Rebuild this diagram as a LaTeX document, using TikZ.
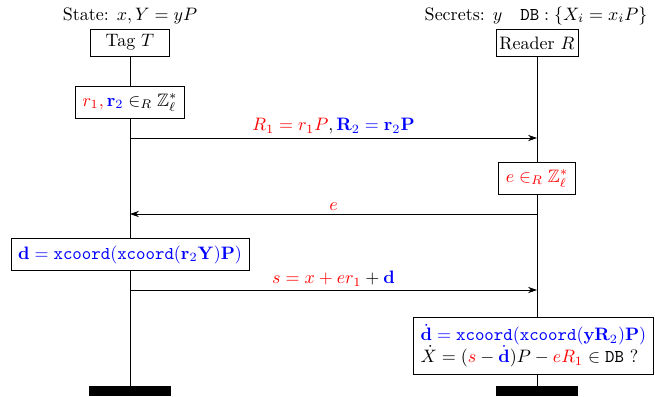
\documentclass[tikz,border=0pt]{standalone}
\usepackage{amssymb}
\usetikzlibrary{arrows.meta,positioning}
\colorlet{rnd}{red}
\colorlet{pnt}{blue}

\begin{document}
\begin{tikzpicture}[x=0.5556pt,y=-0.5556pt,
    actor/.style={draw,minimum width=44pt,minimum height=15pt,inner sep=2pt},
    calcbox/.style={draw,fill=white,inner sep=4pt},
    msg/.style={-{Stealth[length=5pt,width=3.5pt]}},
    lifebar/.style={fill=black,minimum width=45.5pt,minimum height=5.5pt,inner sep=0pt}]
    \path[use as bounding box] (0,0) rectangle (655,396);
    % actors and their headers
    \node[actor] (tag) at (130,42.5) {Tag $T$};
    \node[actor] (rdr) at (537,43) {Reader $R$};
    \node[above=-1pt of tag] (tagState) {State: $x,Y=yP$};
    \node[above=-1pt of rdr,xshift=-0.5pt] (rdrSecret) {Secrets: $y\quad\mathtt{DB}:\{X_i=x_iP\}$};
    % lifelines
    \node[lifebar] (tagEnd) at (130,391) {};
    \node[lifebar] (rdrEnd) at (537,391) {};
    \draw (tag) -- (tagEnd);
    \draw (rdr) -- (rdrEnd);
    % computations
    \node[calcbox] (tagRnd) at (tag |- 0,102.5) {$\color{rnd}r_1,\color{pnt}\mathbf{r}_2\color{black}\in_R\mathbb{Z}_\ell^*$};
    \node[calcbox] (rdrRnd) at (rdr |- 0,178.5) {\color{rnd}$e\in_R\mathbb{Z}_\ell^*$};
    \node[calcbox] (tagD) at (tag |- 0,254.5) {\color{pnt}$\mathbf{d}=\mathtt{xcoord}(\mathtt{xcoord}(\mathbf{r}_2\mathbf{Y})\mathbf{P})$};
    \node[calcbox,align=left,xshift=-2pt] (rdrChk) at (rdr |- 0,345.5) {\color{pnt}$\dot{\mathbf{d}}=\mathtt{xcoord}(\mathtt{xcoord}(\mathbf{y}\mathbf{R}_2)\mathbf{P})$\\
      $\dot{X}=({\color{rnd}s}-{\color{pnt}\dot{\mathbf{d}}})P-{\color{rnd}eR_1}\in\mathtt{DB}$ ?};
    % messages
    \coordinate (m1t) at (tag |- 0,138);
    \coordinate (m1r) at (rdr |- 0,138);
    \coordinate (m2t) at (tag |- 0,214);
    \coordinate (m2r) at (rdr |- 0,214);
    \coordinate (m3t) at (tag |- 0,290);
    \coordinate (m3r) at (rdr |- 0,290);
    \draw[msg] (m1t) -- node[above,inner sep=2pt] {${\color{rnd}R_1=r_1P},{\color{pnt}\mathbf{R}_2=\mathbf{r}_2\mathbf{P}}$} (m1r);
    \draw[msg] (m2r) -- node[above,inner sep=2pt] {\color{rnd}$e$} (m2t);
    \draw[msg] (m3t) -- node[above,inner sep=2pt] {${\color{rnd}s=x+er_1}+{\color{pnt}\mathbf{d}}$} (m3r);
\end{tikzpicture}
\end{document}
